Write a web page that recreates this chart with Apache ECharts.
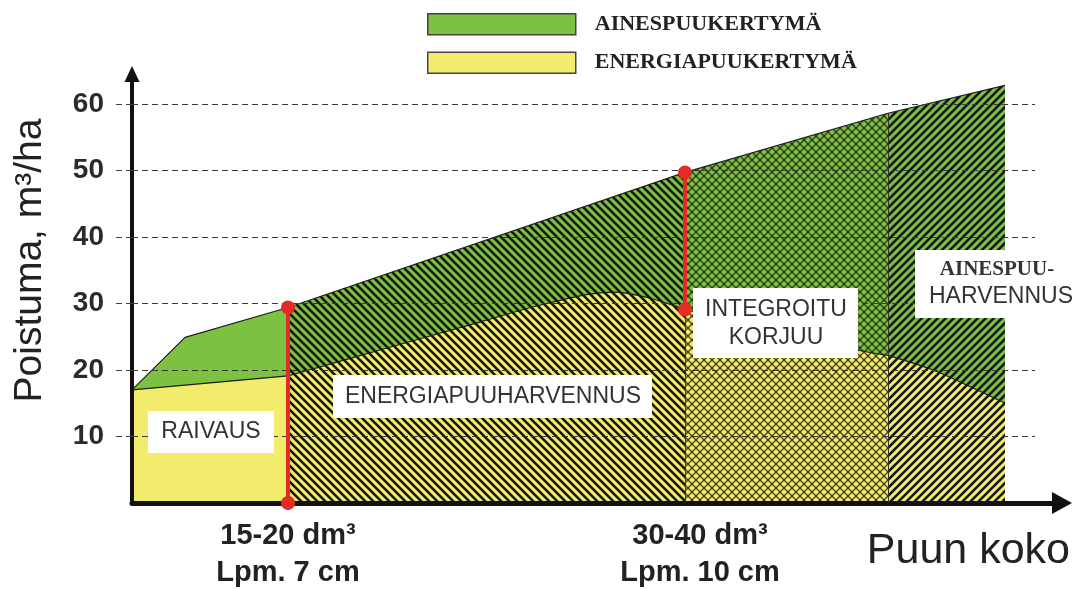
<!DOCTYPE html>
<html>
<head>
<meta charset="utf-8">
<script src="https://cdn.jsdelivr.net/npm/echarts@6/dist/echarts.min.js"></script>
<style>
  html, body { margin: 0; padding: 0; background: #fff; }
  #chart { width: 1081px; height: 589px; }
</style>
</head>
<body>
<div id="chart"></div>
<script>
// upper boundary (ainespuu + energiapuu), x = puun koko (schematic units), y = m3/ha
const totalX = [0, 5.3, 15.6, 55.3, 75.6, 87.3];
const totalY = [17.0, 24.9, 29.4, 49.7, 58.6, 62.8];
// energiapuu boundary
const energyX = [0, 15.6, 24.8, 34.8, 41.5, 48.1, 51.5, 55.3, 72.5, 75.6, 80.1, 83.5, 87.3];
const energyY = [17.0, 19.1, 23.0, 27.2, 30.0, 31.7, 30.9, 29.1, 23.0, 22.2, 20.0, 17.7, 15.0];
// harvesting method sections and their hatch style
const sectionEdges = [0, 15.6, 55.3, 75.6, 87.3];
const sectionFills = ['solid', 'back', 'cross', 'fwd'];
const redLineX = [15.6, 55.3];
const yTicks = [10, 20, 30, 40, 50, 60];
const xTickValues = [15.6, 56.8];
const xTickLabels = ['15-20 dm³\nLpm. 7 cm', '30-40 dm³\nLpm. 10 cm'];
const gridEndX = 90.3;

const GREEN = '#7cc142';
const YELLOW = '#f3eb6b';
const INK = '#222';

function valueAt(xs, ys, x) {
  return ys[xs.indexOf(x)];
}

function pointsIn(xs, ys, lo, hi) {
  const out = [];
  xs.forEach(function (x, i) {
    if (x >= lo && x <= hi) out.push([x, ys[i]]);
  });
  return out;
}

// canvas patterns for the hatched areas
function makeFill(base, kind) {
  if (kind === 'solid') return base;
  const c = document.createElement('canvas');
  c.width = 8;
  c.height = 8;
  const g = c.getContext('2d');
  g.fillStyle = base;
  g.fillRect(0, 0, 8, 8);
  function diag(dir, w, col) {
    g.lineWidth = w;
    g.strokeStyle = col;
    [-8, 0, 8].forEach(function (o) {
      g.beginPath();
      if (dir === 'back') { g.moveTo(o - 2, -2); g.lineTo(o + 10, 10); }
      else { g.moveTo(o - 2, 10); g.lineTo(o + 10, -2); }
      g.stroke();
    });
  }
  if (kind === 'cross') {
    diag('back', 1.4, 'rgba(25,25,15,0.75)');
    diag('fwd', 1.4, 'rgba(25,25,15,0.75)');
  } else {
    diag(kind, 2.6, '#151515');
  }
  return { image: c, repeat: 'repeat' };
}

const series = [];
for (let s = 0; s < sectionFills.length; s++) {
  const lo = sectionEdges[s], hi = sectionEdges[s + 1];
  series.push({
    name: 'AINESPUUKERTYMÄ',
    type: 'line',
    data: pointsIn(totalX, totalY, lo, hi),
    symbol: 'none',
    color: GREEN,
    lineStyle: { color: '#1d1d1d', width: 1.2 },
    areaStyle: { color: makeFill(GREEN, sectionFills[s]), opacity: 1 },
    silent: true,
    z: 2
  });
  series.push({
    name: 'ENERGIAPUUKERTYMÄ',
    type: 'line',
    data: pointsIn(energyX, energyY, lo, hi),
    symbol: 'none',
    smooth: s > 0 ? 0.35 : false,
    color: YELLOW,
    lineStyle: { color: '#1d1d1d', width: 1.2 },
    areaStyle: { color: makeFill(YELLOW, sectionFills[s]), opacity: 1 },
    silent: true,
    z: 3
  });
}

// dashed grid lines and section borders, drawn over the areas
series.push({
  type: 'line',
  data: [],
  silent: true,
  z: 6,
  markLine: {
    silent: true,
    z: 6,
    symbol: ['none', 'none'],
    label: { show: false },
    lineStyle: { color: '#3a3a3a', width: 1, type: [6, 4] },
    data: yTicks.map(function (v) {
      return [{ coord: [0, v] }, { coord: [gridEndX, v] }];
    }).concat([sectionEdges[2], sectionEdges[3]].map(function (x) {
      return [{ coord: [x, 0], lineStyle: { type: 'solid', color: '#333' } },
              { coord: [x, valueAt(totalX, totalY, x)] }];
    }))
  }
});

// red transition lines
const redSegments = [
  [[redLineX[0], 0], [redLineX[0], valueAt(totalX, totalY, redLineX[0])]],
  [[redLineX[1], valueAt(energyX, energyY, redLineX[1])], [redLineX[1], valueAt(totalX, totalY, redLineX[1])]]
];
redSegments.forEach(function (seg) {
  series.push({
    type: 'line',
    data: seg,
    symbol: 'circle',
    symbolSize: 14,
    showAllSymbol: true,
    color: '#e52b26',
    lineStyle: { color: '#e52b26', width: 4 },
    silent: true,
    z: 10
  });
});

const chart = echarts.init(document.getElementById('chart'));
chart.setOption({
  animation: false,
  backgroundColor: '#fff',
  grid: { left: 132, right: 19, top: 74, bottom: 86, outerBoundsMode: 'none' },
  legend: {
    data: ['AINESPUUKERTYMÄ', 'ENERGIAPUUKERTYMÄ'],
    orient: 'vertical',
    left: 422,
    top: 8,
    icon: 'rect',
    itemWidth: 148,
    itemHeight: 21,
    itemGap: 16,
    selectedMode: false,
    itemStyle: { borderColor: '#444', borderWidth: 1.5 },
    textStyle: {
      fontFamily: 'Liberation Serif',
      fontWeight: 'bold',
      fontSize: 22,
      color: INK,
      padding: [0, 0, 0, 14]
    }
  },
  xAxis: {
    type: 'value',
    min: 0,
    max: 93,
    z: 5,
    name: 'Puun koko',
    nameLocation: 'end',
    nameGap: 8,
    nameTextStyle: {
      fontFamily: 'Liberation Sans',
      fontSize: 43,
      color: INK,
      align: 'right',
      verticalAlign: 'top',
      padding: [27, 0, 0, 0]
    },
    axisLine: {
      show: true,
      symbol: ['none', 'triangle'],
      symbolSize: [22, 20],
      lineStyle: { color: '#111', width: 5 }
    },
    axisTick: { show: false },
    splitLine: { show: false },
    axisLabel: {
      customValues: xTickValues,
      formatter: function (v) {
        return xTickLabels[xTickValues.indexOf(v)] || '';
      },
      fontFamily: 'Liberation Sans',
      fontWeight: 'bold',
      fontSize: 29,
      lineHeight: 37,
      color: INK,
      margin: 14
    }
  },
  yAxis: {
    type: 'value',
    min: 0,
    max: 64.5,
    z: 5,
    name: 'Poistuma, m³/ha',
    nameLocation: 'middle',
    nameRotate: 90,
    nameGap: 82,
    nameTextStyle: { fontFamily: 'Liberation Sans', fontSize: 39, color: INK, padding: [0, 0, 0, 56] },
    axisLine: {
      show: true,
      symbol: ['none', 'triangle'],
      symbolSize: [15, 16],
      lineStyle: { color: '#111', width: 4 }
    },
    axisTick: {
      show: true,
      customValues: yTicks,
      length: 20,
      lineStyle: { color: '#444', width: 1, type: [6, 4] }
    },
    splitLine: { show: false },
    axisLabel: {
      customValues: yTicks,
      fontFamily: 'Liberation Sans',
      fontWeight: 'bold',
      fontSize: 28,
      color: '#2b2b2b',
      margin: 28
    }
  },
  graphic: [
    { type: 'rect', z: 100, shape: { x: 148, y: 411, width: 126, height: 42 }, style: { fill: '#fff' } },
    { type: 'text', z: 101, x: 211, y: 432,
      style: { text: 'RAIVAUS', font: '23px "Liberation Sans"', fill: '#333', align: 'center', verticalAlign: 'middle', textAlign: 'center', textVerticalAlign: 'middle' } },
    { type: 'rect', z: 100, shape: { x: 333, y: 375, width: 319, height: 43 }, style: { fill: '#fff' } },
    { type: 'text', z: 101, x: 493, y: 397,
      style: { text: 'ENERGIAPUUHARVENNUS', font: '23px "Liberation Sans"', fill: '#333', align: 'center', verticalAlign: 'middle', textAlign: 'center', textVerticalAlign: 'middle' } },
    { type: 'rect', z: 100, shape: { x: 693, y: 288, width: 165, height: 70 }, style: { fill: '#fff' } },
    { type: 'text', z: 101, x: 776, y: 324,
      style: { text: 'INTEGROITU\nKORJUU', font: '23px "Liberation Sans"', lineHeight: 28, fill: '#333', align: 'center', verticalAlign: 'middle', textAlign: 'center', textVerticalAlign: 'middle' } },
    { type: 'rect', z: 100, shape: { x: 915, y: 250, width: 163, height: 68 }, style: { fill: '#fff' } },
    { type: 'text', z: 101, x: 997, y: 270,
      style: { text: 'AINESPUU-', font: 'bold 21px "Liberation Serif"', fill: '#333', align: 'center', verticalAlign: 'middle', textAlign: 'center', textVerticalAlign: 'middle' } },
    { type: 'text', z: 101, x: 1001, y: 297,
      style: { text: 'HARVENNUS', font: '23px "Liberation Sans"', fill: '#333', align: 'center', verticalAlign: 'middle', textAlign: 'center', textVerticalAlign: 'middle' } }
  ],
  series: series
});
</script>
</body>
</html>
